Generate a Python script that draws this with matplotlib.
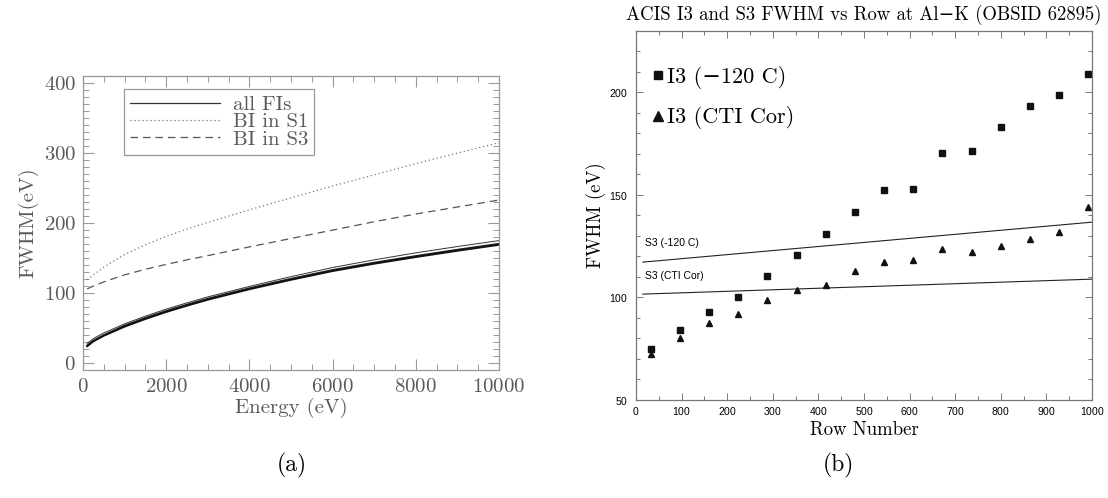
import matplotlib
matplotlib.use("Agg")
import matplotlib.pyplot as plt
from matplotlib.ticker import MultipleLocator
from matplotlib.lines import Line2D

plt.rcParams['axes.formatter.use_mathtext'] = True
SERIF = ['cmr10', 'DejaVu Serif']
SANS = ['Liberation Sans', 'DejaVu Sans']

# ---- panel (a): FWHM vs energy ----
energy = [100, 250, 500, 1000, 1500, 2000, 2500, 3000, 4000, 5000, 6000, 7000, 8000, 9000, 10000]
fi_low = [24, 31, 39, 52, 63, 73, 82, 90.5, 105.5, 119, 131.5, 142, 151.5, 160.5, 169]
fi_mid = [25, 32, 40, 53.5, 64.5, 74.5, 83.5, 92, 107, 120.5, 133, 143.5, 153, 162, 170.5]
fi_top = [28, 35, 43, 56, 67, 77, 86, 94.5, 109.5, 123.5, 136.5, 147.5, 157.5, 166.5, 175]
bi_s1 = [119, 126, 137, 155, 169, 181, 191.5, 201, 219, 236, 253, 269, 285, 300, 315]
bi_s3 = [106, 110, 116, 126, 134, 141, 147.5, 153.5, 166, 178, 190, 202, 213, 223, 233]

# ---- panel (b): FWHM vs row ----
rows = [32, 96, 160, 224, 288, 352, 416, 480, 544, 608, 672, 736, 800, 864, 928, 992]
i3_120 = [74.6, 84.2, 92.9, 100.3, 110.6, 120.6, 130.8, 141.7, 152.4, 152.9, 170.4, 171.2, 183.1, 193.4, 198.6, 209.2]
i3_cti = [72.4, 80.2, 87.6, 92.1, 98.6, 103.7, 105.8, 112.9, 117.2, 118.4, 123.5, 122.2, 125.3, 128.7, 132.0, 144.3]
s3_rows = [15, 1000]
s3_120 = [117.2, 136.7]
s3_cti = [101.6, 108.9]

grey = '#5a5a5a'
fig = plt.figure(figsize=(11.08, 4.98), dpi=100)

ax1 = fig.add_axes([0.0749, 0.257, 0.3755, 0.590])
ax1.plot(energy, fi_top, color='#333333', lw=0.7)
ax1.plot(energy, fi_mid, color='#222222', lw=1.3)
ax1.plot(energy, fi_low, color='#111111', lw=1.4)
ax1.plot(energy, bi_s1, color='#777777', lw=0.9, ls=(0, (1, 2.2)))
ax1.plot(energy, bi_s3, color='#555555', lw=0.9, ls=(0, (6, 4)))
ax1.set_xlim(0, 10000)
ax1.set_ylim(-10, 410)
ax1.xaxis.set_major_locator(MultipleLocator(2000))
ax1.xaxis.set_minor_locator(MultipleLocator(500))
ax1.yaxis.set_major_locator(MultipleLocator(100))
ax1.yaxis.set_minor_locator(MultipleLocator(10))
ax1.tick_params(which='both', direction='in', top=True, right=True, colors='#999999',
                labelcolor=grey, labelsize=15)
ax1.tick_params(which='major', length=8, width=0.8)
ax1.tick_params(which='minor', length=4, width=0.7)
ax1.tick_params(axis='x', pad=6)
ax1.tick_params(axis='y', pad=5)
for t in ax1.get_xticklabels() + ax1.get_yticklabels():
    t.set_family(SERIF)
for s in ax1.spines.values():
    s.set_color('#999999')
    s.set_linewidth(0.9)
ax1.set_xlabel('Energy (eV)', family=SERIF, fontsize=15, color=grey, labelpad=1)
ax1.set_ylabel('FWHM(eV)', family=SERIF, fontsize=15, color=grey, labelpad=4)
handles = [Line2D([], [], color='#333333', lw=0.9),
           Line2D([], [], color='#777777', lw=0.9, ls=(0, (1, 2.2))),
           Line2D([], [], color='#555555', lw=0.9, ls=(0, (6, 4)))]
leg = ax1.legend(handles, ['all FIs', 'BI in S1', 'BI in S3'], loc='upper left',
                 bbox_to_anchor=(0.099, 0.956), borderaxespad=0, fancybox=False,
                 edgecolor='#999999', framealpha=1, handlelength=4.3, handletextpad=0.6,
                 labelspacing=-0.06, borderpad=0.3, prop={'family': SERIF, 'size': 15})
leg.get_frame().set_linewidth(0.9)
for t in leg.get_texts():
    t.set_color(grey)

ax2 = fig.add_axes([0.574, 0.197, 0.4116, 0.741])
ax2.plot(s3_rows, s3_120, color='#222222', lw=0.8)
ax2.plot(s3_rows, s3_cti, color='#222222', lw=0.8)
ax2.plot(rows, i3_120, 's', color='#111111', ms=4.3, label='I3 (\u2212120 C)')
ax2.plot(rows, i3_cti, '^', color='#111111', ms=5, label='I3 (CTI Cor)')
ax2.text(20, 126.4, 'S3 (-120 C)', family=SANS, fontsize=7.5, va='center')
ax2.text(20, 110.2, 'S3 (CTI Cor)', family=SANS, fontsize=7.5, va='center')
ax2.set_xlim(0, 1000)
ax2.set_ylim(50, 230)
ax2.xaxis.set_major_locator(MultipleLocator(100))
ax2.xaxis.set_minor_locator(MultipleLocator(50))
ax2.yaxis.set_major_locator(MultipleLocator(50))
ax2.yaxis.set_minor_locator(MultipleLocator(10))
ax2.tick_params(which='both', direction='in', top=True, right=True, colors='#777777',
                labelcolor='black', labelsize=7.5, width=0.7)
ax2.tick_params(which='major', length=5)
ax2.tick_params(which='minor', length=3)
ax2.tick_params(axis='y', pad=6)
for t in ax2.get_xticklabels() + ax2.get_yticklabels():
    t.set_family(SANS)
for s in ax2.spines.values():
    s.set_color('#777777')
    s.set_linewidth(0.9)
ax2.set_xlabel('Row Number', family=SERIF, fontsize=13.5, labelpad=3)
ax2.set_ylabel('FWHM (eV)', family=SERIF, fontsize=13.5, labelpad=2)
ax2.set_title('ACIS I3 and S3 FWHM vs Row at Al\u2212K (OBSID 62895)',
              family=SERIF, fontsize=13.5, pad=8)
ax2.legend(loc='upper left', bbox_to_anchor=(-0.01, 0.96), frameon=False,
           handlelength=0.6, handletextpad=0.1, labelspacing=0.8, markerscale=1.4,
           prop={'family': SERIF, 'size': 16})

fig.text(0.2635, 0.066, '(a)', family=SERIF, fontsize=17, ha='center', va='center')
fig.text(0.7563, 0.066, '(b)', family=SERIF, fontsize=17, ha='center', va='center')

fig.savefig('out.png', dpi=100)
